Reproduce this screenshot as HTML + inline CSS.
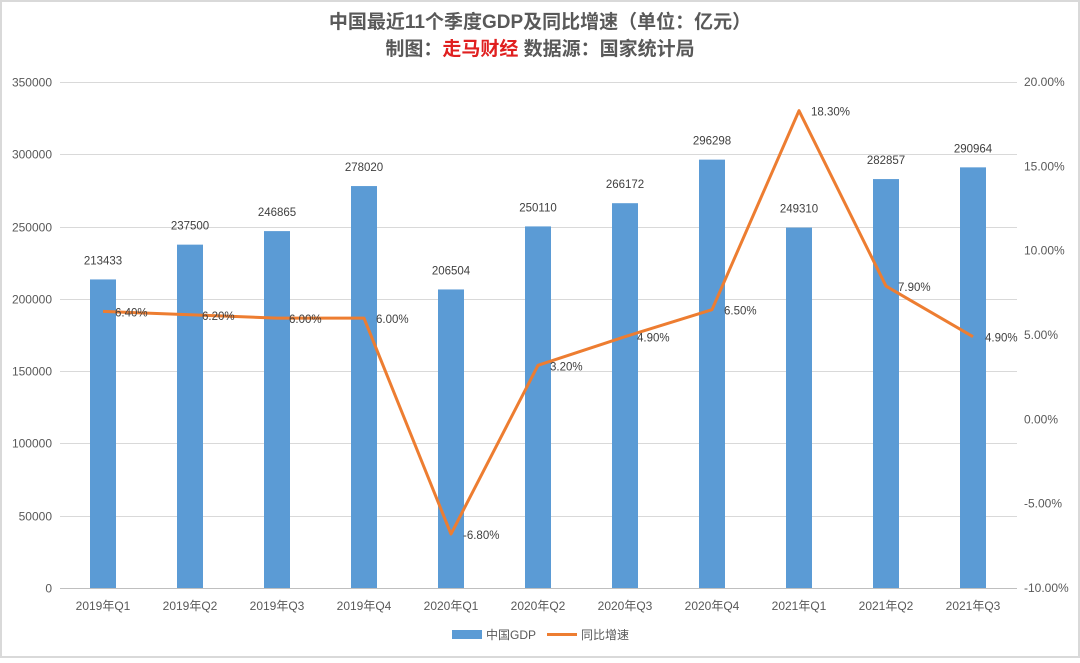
<!DOCTYPE html>
<html><head><meta charset="utf-8"><style>
html,body{margin:0;padding:0;background:#fff;}
body{width:1080px;height:658px;overflow:hidden;font-family:"Liberation Sans","Noto Sans CJK SC",sans-serif;}
</style></head><body>
<svg id="chart" width="1080" height="658" viewBox="0 0 1080 658" xmlns="http://www.w3.org/2000/svg" font-family="Liberation Sans, Noto Sans CJK SC, sans-serif">
<rect x="1" y="1" width="1078" height="656" fill="#fff" stroke="#d9d9d9" stroke-width="2"/>
<text x="540" y="28" text-anchor="middle" font-size="19" font-weight="bold" fill="#595959">中国最近11个季度GDP及同比增速（单位：亿元）</text>
<text x="540" y="55" text-anchor="middle" font-size="19" font-weight="bold" fill="#595959">制图：<tspan fill="#e02020">走马财经</tspan> 数据源：国家统计局</text>
<g id="grid"></g><g id="bars"></g><g id="line"></g><g id="labels"></g>
<g>
<rect x="452" y="630" width="30" height="9" fill="#5b9bd5"/>
<text x="486" y="639" font-size="12" fill="#595959">中国GDP</text>
<line x1="547" y1="634.5" x2="577" y2="634.5" stroke="#ed7d31" stroke-width="3"/>
<text x="581" y="639" font-size="12" fill="#595959">同比增速</text>
</g>
</svg>
<script>
const categories=["2019年Q1","2019年Q2","2019年Q3","2019年Q4","2020年Q1","2020年Q2","2020年Q3","2020年Q4","2021年Q1","2021年Q2","2021年Q3"];
const gdp=[213433,237500,246865,278020,206504,250110,266172,296298,249310,282857,290964];
const growth=[6.4,6.2,6.0,6.0,-6.8,3.2,4.9,6.5,18.3,7.9,4.9];
const leftTicks=[0,50000,100000,150000,200000,250000,300000,350000];
const rightTicks=[-10,-5,0,5,10,15,20];
const NS="http://www.w3.org/2000/svg";
const X0=60,BAND=87,Y0=588,Y1=82;
const yL=v=>Y0-(v/350000)*(Y0-Y1);
const yR=v=>Y0-((v+10)/30)*(Y0-Y1);
const xC=i=>X0+BAND*(i+0.5)-0.5;
function mk(tag,attrs,parent,txt){const e=document.createElementNS(NS,tag);for(const k in attrs)e.setAttribute(k,attrs[k]);if(txt!==undefined)e.textContent=txt;document.getElementById(parent).appendChild(e);return e;}
leftTicks.forEach(t=>{
 const y=Math.round(yL(t))+0.5;
 const g=mk('line',{x1:X0,x2:1017,y1:y,y2:y,stroke:t===0?'#bfbfbf':'#d9d9d9','stroke-width':1},'grid');
 
 
 const l=mk('text',{x:52,y:y+4,'text-anchor':'end','font-size':12,fill:'#595959'},'grid',String(t));
 
 
});
rightTicks.forEach(t=>{
 const l=mk('text',{x:1024,y:yR(t)+4,'font-size':12,fill:'#595959'},'grid',t.toFixed(2)+'%');
 
 
});
categories.forEach((c,i)=>{
 const l=mk('text',{x:xC(i),y:610,'text-anchor':'middle','font-size':12,fill:'#595959'},'grid',c);
 
 
});
gdp.forEach((v,i)=>{
 const y=yL(v);
 const b=mk('rect',{x:xC(i)-13,y:y,width:26,height:Y0-y,fill:'#5b9bd5'},'bars');
 
 
 const t=mk('text',{x:xC(i),y:y-15,'text-anchor':'middle','font-size':11.5,fill:'#404040'},'labels',String(v));
 
 
});
const pts=growth.map((v,i)=>xC(i)+','+yR(v)).join(' ');
const pl=mk('polyline',{points:pts,fill:'none',stroke:'#ed7d31','stroke-width':3,'stroke-linejoin':'round'},'line');


growth.forEach((v,i)=>{
 const t=mk('text',{x:xC(i)+12,y:yR(v)+5,'font-size':11.5,fill:'#404040'},'labels',v.toFixed(2)+'%');
 
 
});
</script>
</body></html>
